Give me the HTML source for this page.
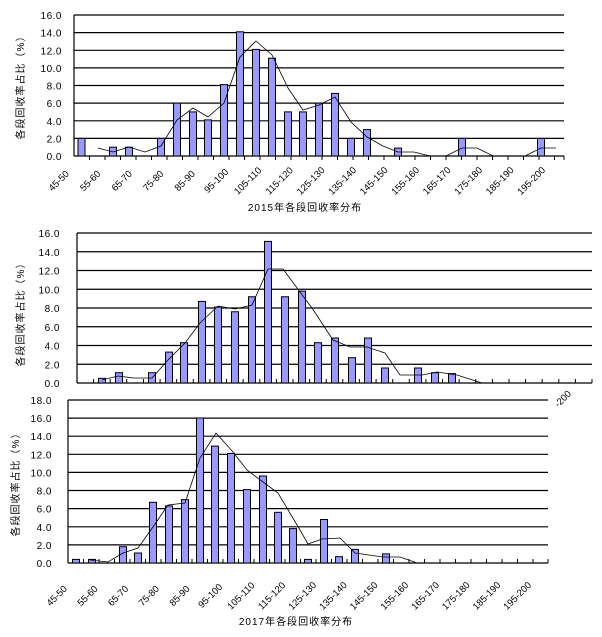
<!DOCTYPE html>
<html><head><meta charset="utf-8"><style>
html,body{margin:0;padding:0;background:#fff;}
svg{display:block;font-family:"Liberation Sans","Noto Sans CJK SC",sans-serif;}
.y{font-size:10px;text-anchor:end;letter-spacing:0.5px}
.x{font-size:9.5px;text-anchor:middle}
.t{font-size:10px;text-anchor:middle;letter-spacing:1px}
.g line{stroke:#000;stroke-width:1.2}
.b rect{fill:#9999ff;stroke:#000;stroke-width:1}
polyline{fill:none;stroke:#000;stroke-width:0.8}
.tk{stroke:#000;stroke-width:1;fill:none}
</style></head><body>
<svg width="602" height="637" viewBox="0 0 602 637">
<!-- Chart 1 -->
<g class="g">
<line x1="74" y1="15" x2="564" y2="15"/><line x1="74" y1="32.6" x2="564" y2="32.6"/><line x1="74" y1="50.3" x2="564" y2="50.3"/><line x1="74" y1="67.9" x2="564" y2="67.9"/><line x1="74" y1="85.5" x2="564" y2="85.5"/><line x1="74" y1="103.1" x2="564" y2="103.1"/><line x1="74" y1="120.8" x2="564" y2="120.8"/><line x1="74" y1="138.4" x2="564" y2="138.4"/><line x1="74" y1="156" x2="564" y2="156"/>
<line x1="74" y1="15" x2="74" y2="156"/>
</g>
<path class="tk" d="M89.5 156v4M105 156v4M120.5 156v4M136 156v4M151.5 156v4M167 156v4M182.5 156v4M198 156v4M213.5 156v4M229 156v4M244.5 156v4M260 156v4M275.5 156v4M291 156v4M306.5 156v4M322 156v4M337.5 156v4M353 156v4M368.5 156v4M384 156v4M399.5 156v4M415 156v4M430.5 156v4M446 156v4M461.5 156v4M477 156v4M492.5 156v4M508 156v4M523.5 156v4M539 156v4M554.5 156v4M564 156v4"/>
<g class="b">
<rect x="78" y="138.4" width="7" height="17.6"/><rect x="109.5" y="147.2" width="7" height="8.8"/><rect x="125.5" y="147.2" width="7" height="8.8"/><rect x="157.5" y="138.4" width="7" height="17.6"/><rect x="173.5" y="103.1" width="7" height="52.9"/><rect x="189.5" y="111.9" width="7" height="44.1"/><rect x="204.5" y="119.9" width="7" height="36.1"/><rect x="220.5" y="84.6" width="7" height="71.4"/><rect x="236.5" y="31.8" width="7" height="124.2"/><rect x="252.5" y="49.4" width="7" height="106.6"/><rect x="268.5" y="58.2" width="7" height="97.8"/><rect x="284.5" y="111.9" width="7" height="44.1"/><rect x="299.5" y="111.9" width="7" height="44.1"/><rect x="315.5" y="103.1" width="7" height="52.9"/><rect x="331.5" y="93.4" width="7" height="62.6"/><rect x="347.5" y="138.4" width="7" height="17.6"/><rect x="363.5" y="129.6" width="7" height="26.4"/><rect x="394.5" y="148.1" width="7" height="7.9"/><rect x="458.5" y="138.4" width="7" height="17.6"/><rect x="537.5" y="138.4" width="7" height="17.6"/>
</g>
<polyline points="98,148 113,152 129,147 145,152 161,146 177,120 193,108 208,117 224,103 240,57 256,41 272,55 288,88 303,110 319,105 335,97 351,122 367,137 383,146 398,152 414,152 430,156 446,156 462,148 477,148 493,156 509,156 525,156 541,148 556,148"/>
<text class="y" x="62" y="19">16.0</text><text class="y" x="62" y="36.6">14.0</text><text class="y" x="62" y="54.3">12.0</text><text class="y" x="62" y="71.9">10.0</text><text class="y" x="62" y="89.5">8.0</text><text class="y" x="62" y="107.1">6.0</text><text class="y" x="62" y="124.8">4.0</text><text class="y" x="62" y="142.4">2.0</text><text class="y" x="62" y="160">0.0</text>
<text class="t" transform="translate(24,85) rotate(-90)">各段回收率占比（%）</text>
<g class="x">
<text transform="translate(61,183) rotate(-45)">45-50</text><text transform="translate(92.5,183) rotate(-45)">55-60</text><text transform="translate(124,183) rotate(-45)">65-70</text><text transform="translate(155.5,183) rotate(-45)">75-80</text><text transform="translate(187,183) rotate(-45)">85-90</text><text transform="translate(218.5,183) rotate(-45)">95-100</text><text transform="translate(250,183) rotate(-45)">105-110</text><text transform="translate(281.5,183) rotate(-45)">115-120</text><text transform="translate(313,183) rotate(-45)">125-130</text><text transform="translate(344.5,183) rotate(-45)">135-140</text><text transform="translate(376,183) rotate(-45)">145-150</text><text transform="translate(407.5,183) rotate(-45)">155-160</text><text transform="translate(439,183) rotate(-45)">165-170</text><text transform="translate(470.5,183) rotate(-45)">175-180</text><text transform="translate(502,183) rotate(-45)">185-190</text><text transform="translate(533.5,183) rotate(-45)">195-200</text>
</g>
<text class="t" x="305" y="211">2015年各段回收率分布</text>

<!-- Chart 2 -->
<g class="g">
<line x1="77" y1="233" x2="592" y2="233"/><line x1="77" y1="251.75" x2="592" y2="251.75"/><line x1="77" y1="270.5" x2="592" y2="270.5"/><line x1="77" y1="289.25" x2="592" y2="289.25"/><line x1="77" y1="308" x2="592" y2="308"/><line x1="77" y1="326.75" x2="592" y2="326.75"/><line x1="77" y1="345.5" x2="592" y2="345.5"/><line x1="77" y1="364.25" x2="592" y2="364.25"/><line x1="77" y1="383" x2="592" y2="383"/>
<line x1="77" y1="233" x2="77" y2="383"/>
</g>
<path class="tk" d="M93.6 379v4M110.2 379v4M126.8 379v4M143.5 379v4M160.1 379v4M176.7 379v4M193.3 379v4M209.9 379v4M226.5 379v4M243.1 379v4M259.8 379v4M276.4 379v4M293 379v4M309.6 379v4M326.2 379v4M342.8 379v4M359.4 379v4M376.1 379v4M392.7 379v4M409.3 379v4M425.9 379v4M442.5 379v4M459.1 379v4M475.7 379v4M492.4 379v4M509 379v4M525.6 379v4M542.2 379v4M558.8 379v4M575.4 379v4M592 379v4"/>
<g class="b">
<rect x="98.5" y="378.3" width="7" height="4.7"/><rect x="115.5" y="372.7" width="7" height="10.3"/><rect x="148.5" y="372.7" width="7" height="10.3"/><rect x="165.5" y="352.1" width="7" height="30.9"/><rect x="180.5" y="342.7" width="7" height="40.3"/><rect x="198.5" y="301.4" width="7" height="81.6"/><rect x="214.5" y="307.1" width="7" height="75.9"/><rect x="231.5" y="311.75" width="7" height="71.25"/><rect x="248.5" y="296.75" width="7" height="86.25"/><rect x="264.5" y="241.4" width="7" height="141.6"/><rect x="281.5" y="296.75" width="7" height="86.25"/><rect x="298.5" y="291.1" width="7" height="91.9"/><rect x="314.5" y="342.7" width="7" height="40.3"/><rect x="331.5" y="338" width="7" height="45"/><rect x="348.5" y="357.7" width="7" height="25.3"/><rect x="364.5" y="338" width="7" height="45"/><rect x="381.5" y="368" width="7" height="15"/><rect x="414.5" y="368" width="7" height="15"/><rect x="431.5" y="372.7" width="7" height="10.3"/><rect x="448.5" y="373.6" width="7" height="9.4"/>
</g>
<polyline points="102,380 118,376 133,378 152,378 168,360 185,343 200,323 218,306 235,309 252,305 268,269 283,269 300,292 312,308 333,340 350,347 367,347 385,353 400,375 422,375 437,372 457,375 482,383"/>
<text class="y" x="60" y="237">16.0</text><text class="y" x="60" y="255.75">14.0</text><text class="y" x="60" y="274.5">12.0</text><text class="y" x="60" y="293.25">10.0</text><text class="y" x="60" y="312">8.0</text><text class="y" x="60" y="330.75">6.0</text><text class="y" x="60" y="349.5">4.0</text><text class="y" x="60" y="368.25">2.0</text><text class="y" x="60" y="387">0.0</text>
<text class="t" transform="translate(24,312) rotate(-90)">各段回收率占比（%）</text>
<text class="x" transform="translate(565,401) rotate(-45)">-200</text>

<!-- Chart 3 -->
<g class="g">
<line x1="68" y1="400" x2="548" y2="400"/><line x1="68" y1="418.1" x2="548" y2="418.1"/><line x1="68" y1="436.2" x2="548" y2="436.2"/><line x1="68" y1="454.3" x2="548" y2="454.3"/><line x1="68" y1="472.4" x2="548" y2="472.4"/><line x1="68" y1="490.5" x2="548" y2="490.5"/><line x1="68" y1="508.6" x2="548" y2="508.6"/><line x1="68" y1="526.8" x2="548" y2="526.8"/><line x1="68" y1="544.9" x2="548" y2="544.9"/><line x1="68" y1="563" x2="548" y2="563"/>
<line x1="68" y1="400" x2="68" y2="563"/>
</g>
<path class="tk" d="M83.5 559v4M99 559v4M114.5 559v4M130 559v4M145.5 559v4M161 559v4M176.5 559v4M192 559v4M207.5 559v4M223 559v4M238.5 559v4M254 559v4M269.5 559v4M285 559v4M300.5 559v4M316 559v4M331.5 559v4M347 559v4M362.5 559v4M378 559v4M393.5 559v4M409 559v4M424.5 559v4M440 559v4M455.5 559v4M471 559v4M486.5 559v4M502 559v4M517.5 559v4M533 559v4M548 559v4"/>
<g class="b">
<rect x="72.5" y="559.4" width="7" height="3.6"/><rect x="88.5" y="559.4" width="7" height="3.6"/><rect x="119.5" y="546.7" width="7" height="16.3"/><rect x="134.5" y="553" width="7" height="10"/><rect x="149.5" y="502.3" width="7" height="60.7"/><rect x="165.5" y="505.9" width="7" height="57.1"/><rect x="181.5" y="499.6" width="7" height="63.4"/><rect x="196.5" y="418" width="7" height="145"/><rect x="211.5" y="446.1" width="7" height="116.9"/><rect x="227.5" y="453.4" width="7" height="109.6"/><rect x="243.5" y="489.6" width="7" height="73.4"/><rect x="259.5" y="476" width="7" height="87"/><rect x="274.5" y="512.3" width="7" height="50.7"/><rect x="289.5" y="528.6" width="7" height="34.4"/><rect x="304.5" y="559.4" width="7" height="3.6"/><rect x="320.5" y="519.5" width="7" height="43.5"/><rect x="335.5" y="556.7" width="7" height="6.3"/><rect x="351.5" y="549.4" width="7" height="13.6"/><rect x="382.5" y="553.9" width="7" height="9.1"/>
</g>
<polyline points="90,560 108,562 123,553 138,548 153,527 168,505 185,503 200,458 216,433 233,452 247,470 263,482 278,493 300,530 308,544 322,539 340,538 355,553 383,557 400,557 417,563"/>
<text class="y" x="52" y="404">18.0</text><text class="y" x="52" y="422.1">16.0</text><text class="y" x="52" y="440.2">14.0</text><text class="y" x="52" y="458.3">12.0</text><text class="y" x="52" y="476.4">10.0</text><text class="y" x="52" y="494.5">8.0</text><text class="y" x="52" y="512.6">6.0</text><text class="y" x="52" y="530.8">4.0</text><text class="y" x="52" y="548.9">2.0</text><text class="y" x="52" y="567">0.0</text>
<text class="t" transform="translate(19,482) rotate(-90)">各段回收率占比（%）</text>
<g class="x">
<text transform="translate(59,598) rotate(-45)">45-50</text><text transform="translate(89.7,598) rotate(-45)">55-60</text><text transform="translate(120.4,598) rotate(-45)">65-70</text><text transform="translate(151.1,598) rotate(-45)">75-80</text><text transform="translate(181.8,598) rotate(-45)">85-90</text><text transform="translate(212.5,598) rotate(-45)">95-100</text><text transform="translate(243.2,598) rotate(-45)">105-110</text><text transform="translate(273.9,598) rotate(-45)">115-120</text><text transform="translate(304.6,598) rotate(-45)">125-130</text><text transform="translate(335.3,598) rotate(-45)">135-140</text><text transform="translate(366,598) rotate(-45)">145-150</text><text transform="translate(396.7,598) rotate(-45)">155-160</text><text transform="translate(427.4,598) rotate(-45)">165-170</text><text transform="translate(458.1,598) rotate(-45)">175-180</text><text transform="translate(488.8,598) rotate(-45)">185-190</text><text transform="translate(519.5,598) rotate(-45)">195-200</text>
</g>
<text class="t" x="296" y="625">2017年各段回收率分布</text>
</svg>
</body></html>
